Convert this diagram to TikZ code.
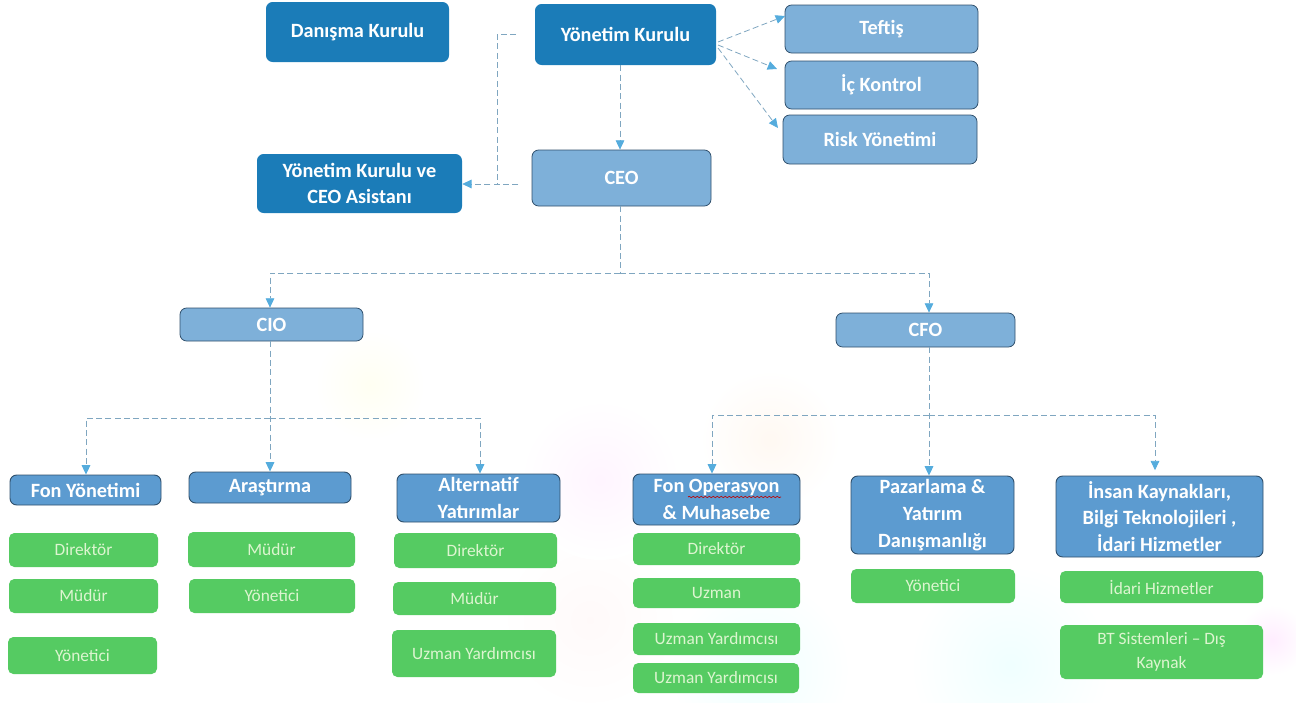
\documentclass[tikz,border=0pt]{standalone}
\usepackage{fontspec}
\setmainfont{Carlito}
\usetikzlibrary{arrows.meta,decorations.pathmorphing}
\definecolor{darkbox}{HTML}{1B7CB8}
\definecolor{lightbox}{HTML}{7EB0D9}
\definecolor{midbox}{HTML}{5C9BD0}
\definecolor{edgeline}{HTML}{2F4F6B}
\definecolor{greenbox}{HTML}{55CB62}
\definecolor{greentext}{HTML}{DDF5D0}
\definecolor{dashline}{HTML}{7FA6C0}
\definecolor{tipblue}{HTML}{55ACDD}
\newcommand{\bx}[7]{\node[#6,minimum width={(#4-#2)*0.75pt},minimum height={(#5-#3)*0.75pt}] (#1) at ({(#2+#4)/2},{(#3+#5)/2}) {#7};}
\tikzset{
  boxbase/.style={rectangle,rounded corners=5pt,inner sep=0pt,align=center,font=\fontsize{15.2pt}{20pt}\selectfont\bfseries,text=white},
  topbox/.style={boxbase,fill=darkbox},
  lightnode/.style={boxbase,fill=lightbox,draw=edgeline,line width=0.6pt},
  deptbox/.style={boxbase,fill=midbox,draw=edgeline,line width=0.7pt},
  rolebox/.style={boxbase,fill=greenbox,rounded corners=4pt,text=greentext,font=\fontsize{13pt}{18pt}\selectfont},
  link/.style={draw=dashline,line width=0.6pt,dash pattern=on 4.5pt off 2.5pt},
  arrowlink/.style={link,-{Triangle[length=7pt,width=6.5pt,color=tipblue]}},
  haze/.style={draw=none}
}
\begin{document}
\begin{tikzpicture}[x=0.75pt,y=-0.75pt]
\useasboundingbox (0,0) rectangle (1296,703);
% faint paper colouring
\shade[haze,inner color=pink!9,outer color=white] (590,620) circle (90);
\shade[haze,inner color=cyan!6,outer color=white] (760,670) circle (90);
\shade[haze,inner color=cyan!6,outer color=white] (1010,665) circle (100);
\shade[haze,inner color=orange!5,outer color=white] (770,440) circle (70);
\shade[haze,inner color=magenta!4,outer color=white] (600,480) circle (80);
\shade[haze,inner color=magenta!7,outer color=white] (1272,640) circle (35);
\shade[haze,inner color=yellow!5,outer color=white] (370,385) circle (55);
% boxes
\bx{danisma}{266}{2}{449}{62}{topbox}{Danışma Kurulu}
\bx{yk}{535}{4}{716}{65}{topbox}{Yönetim Kurulu}
\bx{teftis}{785}{5}{978}{53}{lightnode}{Teftiş}
\bx{ic}{785}{61}{978}{109}{lightnode}{İç Kontrol}
\bx{risk}{783}{115}{977}{164}{lightnode}{Risk Yönetimi}
\bx{ceo}{532}{150}{711}{206}{lightnode}{CEO}
\bx{asistan}{257}{154}{462}{213}{topbox}{Yönetim Kurulu ve\\CEO Asistanı}
\bx{cio}{180}{308}{363}{341}{lightnode}{CIO}
\bx{cfo}{836}{313}{1015}{347}{lightnode}{CFO}
\bx{fon}{10}{475}{161}{505}{deptbox}{Fon Yönetimi}
\bx{aras}{189}{472}{351}{503}{deptbox}{Araştırma}
\bx{alt}{397}{474}{560}{522}{deptbox}{Alternatif\\Yatırımlar}
\bx{fonop}{633}{474}{800}{525}{deptbox}{Fon Operasyon\\\& Muhasebe}
\bx{paz}{851}{476}{1014}{554}{deptbox}{Pazarlama \&\\Yatırım\\Danışmanlığı}
\bx{ins}{1056}{476}{1263}{557}{deptbox}{İnsan Kaynakları,\\Bilgi Teknolojileri ,\\İdari Hizmetler}
\bx{a1}{9}{533}{158}{567}{rolebox}{Direktör}
\bx{a2}{9}{579}{158}{613}{rolebox}{Müdür}
\bx{a3}{8}{637}{157}{674}{rolebox}{Yönetici}
\bx{b1}{188}{532}{355}{567}{rolebox}{Müdür}
\bx{b2}{189}{579}{355}{613}{rolebox}{Yönetici}
\bx{c1}{394}{533}{557}{568}{rolebox}{Direktör}
\bx{c2}{393}{582}{556}{615}{rolebox}{Müdür}
\bx{c3}{392}{630}{556}{677}{rolebox}{Uzman Yardımcısı}
\bx{d1}{633}{533}{800}{565}{rolebox}{Direktör}
\bx{d2}{633}{578}{800}{608}{rolebox}{Uzman}
\bx{d3}{633}{623}{800}{655}{rolebox}{Uzman Yardımcısı}
\bx{d4}{633}{663}{799}{693}{rolebox}{Uzman Yardımcısı}
\bx{e1}{851}{569}{1015}{603}{rolebox}{Yönetici}
\bx{f1}{1060}{571}{1263}{603}{rolebox}{İdari Hizmetler}
\bx{f2}{1060}{625}{1263}{679}{rolebox}{BT Sistemleri -- Dış\\Kaynak}
% spell-check underline
\coordinate (wavea) at (688,497);
\coordinate (waveb) at (781,497);
\draw[red!75!black,line width=0.5pt,decorate,decoration={snake,amplitude=0.5pt,segment length=3pt}] (wavea) -- (waveb);
% free points and buses
\coordinate (ykturn) at (497,34.5);
\coordinate (ceobus) at (620,273);
\coordinate (busl) at (270,273);
\coordinate (busr) at (929,273);
\coordinate (tciol) at (86,418);
\coordinate (tciom) at (270,418);
\coordinate (tcior) at (480,418);
\coordinate (tcfol) at (712,415);
\coordinate (tcfom) at (929,415);
\coordinate (tcfor) at (1155,415);
\coordinate (ceoasst) at (497,184);
\coordinate (tipt) at (785,16);
\coordinate (tipi) at (777,69);
\coordinate (tipr) at (778,128);
% connectors
\draw[arrowlink] (718,42) -- (tipt);
\draw[arrowlink] (718,45) -- (tipi);
\draw[arrowlink] (718,48) -- (tipr);
\draw[arrowlink] (yk.south -| ceobus) -- (ceo.north -| ceobus);
\draw[link,shorten <=14pt] (yk.west) -- (ykturn) -- (ceoasst);
\draw[arrowlink,shorten <=10pt] (ceo.west |- ceoasst) -- (asistan.east |- ceoasst);
\draw[link] (ceo.south -| ceobus) -- (ceobus);
\draw[arrowlink] (ceobus) -- (busl) -- (cio.north -| busl);
\draw[arrowlink] (ceobus) -- (busr) -- (cfo.north -| busr);
\draw[arrowlink] (cio.south -| tciom) -- (aras.north -| tciom);
\draw[arrowlink] (tciom) -- (tciol) -- (fon.north -| tciol);
\draw[arrowlink] (tciom) -- (tcior) -- (alt.north -| tcior);
\draw[arrowlink] (cfo.south -| tcfom) -- (paz.north -| tcfom);
\draw[arrowlink] (tcfom) -- (tcfol) -- (fonop.north -| tcfol);
\draw[arrowlink,shorten >=4pt] (tcfom) -- (tcfor) -- (ins.north -| tcfor);
\end{tikzpicture}
\end{document}
